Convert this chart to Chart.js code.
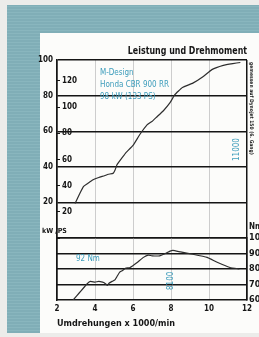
<!DOCTYPE html>
<html>
<head>
<meta charset="utf-8">
<script src="https://cdn.jsdelivr.net/npm/chart.js@4.4.0/dist/chart.umd.min.js"></script>
<style>
  html, body { margin: 0; padding: 0; }
  body {
    width: 259px; height: 337px; position: relative; overflow: hidden;
    background: #ececea;
    font-family: "Liberation Sans Narrow", "DejaVu Sans Condensed", "Liberation Sans", sans-serif;
  }
  #frame {
    position: absolute; left: 7px; top: 5px; width: 252px; height: 328px;
    background: repeating-linear-gradient(0deg, #80aeb7 0 2px, #89b6be 2px 3px);
  }
  #panel { position: absolute; left: 40px; top: 33px; width: 219px; height: 300px; background: #fcfcfa; }
  canvas { position: absolute; left: 0; top: 0; }
  .t { position: absolute; white-space: nowrap; font-weight: bold; color: #161616; }
  .teal { color: #3c9cbb; font-weight: normal; }
  .rot { transform-origin: 0 0; }
</style>
</head>
<body>
<div id="frame"></div>
<div id="panel"></div>
<canvas id="kw" width="259" height="337"></canvas>
<canvas id="nm" width="259" height="337"></canvas>

<div class="t" style="right:12px; top:44px; font-size:11px; transform:scaleX(0.8); transform-origin:100% 0;">Leistung und Drehmoment</div>
<div class="t teal" style="left:100px; top:67px; font-size:8px; line-height:12px;">M-Design<br>Honda CBR 900 RR<br>98 kW (133 PS)</div>
<div class="t teal rot" style="left:232px; top:161px; font-size:8px; transform:rotate(-90deg);">11000</div>
<div class="t teal rot" style="left:166px; top:290px; font-size:8px; transform:rotate(-90deg);">8100</div>
<div class="t teal" style="left:76px; top:254px; font-size:8px;">92 Nm</div>
<div class="t" style="left:42px; top:227px; font-size:7px;">kW /PS</div>
<div class="t" style="left:249px; top:222px; font-size:8px;">Nm</div>
<div class="t rot" style="left:255px; top:62px; font-size:5px; transform:rotate(90deg);">gemessen auf Dynojet 150 (6. Gang)</div>

<script>
// Leistung (kW) ueber Drehzahl (x 1000/min)
const powerRpm = [2.95, 3.2, 3.4, 3.6, 3.9, 4.2, 4.5, 4.7, 4.95, 5.05, 5.15, 5.35, 5.6, 6.0, 6.35, 6.75, 7.0, 7.25, 7.6, 7.95, 8.2, 8.6, 9.15, 9.7, 10.15, 10.75, 11.25, 11.65];
const powerKw  = [19.4, 25, 29, 30.5, 32.7, 34, 35, 35.8, 36.3, 38, 41, 44, 47.6, 52, 58, 63.7, 65.5, 68, 71.5, 76, 80.5, 84.5, 87, 90.7, 94.6, 97, 98, 98.6];

// Drehmoment (Nm) ueber Drehzahl
const torqueRpm = [2.85, 3.2, 3.55, 3.75, 4.0, 4.2, 4.4, 4.5, 4.65, 4.75, 4.9, 5.05, 5.15, 5.3, 5.45, 5.6, 5.85, 6.2, 6.55, 6.8, 7.0, 7.4, 7.7, 7.95, 8.1, 8.5, 9.15, 9.9, 10.4, 11.1, 11.6];
const torqueNm  = [60, 65, 70, 72, 71.5, 72, 71.5, 71, 69.5, 71, 72, 73, 75, 78, 79, 80.5, 81, 84, 87.5, 89, 88.5, 88.5, 90, 91.5, 92, 91, 89.5, 87.5, 84.5, 81, 80];

// Achsen
const rpmMin = 2, rpmMax = 12, rpmStep = 2;
const kwMax = 100, kwStep = 20;
const psMax = 136, psStep = 20;
const nmMin = 60, nmMax = 100, nmStep = 10;

const FONT = '"Liberation Sans Narrow", "DejaVu Sans Condensed", "Liberation Sans", sans-serif';
const INK = '#151515';

Chart.defaults.font.family = FONT;
Chart.defaults.color = INK;

function vGrid(ctx) {
  const v = ctx.tick.value;
  return (v === rpmMin || v === rpmMax) ? INK : '#cdcdcd';
}
function vWidth(ctx) {
  const v = ctx.tick.value;
  return (v === rpmMin || v === rpmMax) ? 1.5 : 1;
}

function toPoints(xs, ys) {
  return xs.map((x, i) => ({ x: x, y: ys[i] }));
}

// Oberes Diagramm: Leistung
new Chart(document.getElementById('kw'), {
  type: 'line',
  data: {
    datasets: [{
      data: toPoints(powerRpm, powerKw),
      borderColor: '#2e2e2e',
      borderWidth: 1.2,
      pointRadius: 0,
      tension: 0.1
    }]
  },
  options: {
    responsive: false,
    animation: false,
    layout: { padding: { top: 60, right: 12, left: 0, bottom: 0 } },
    plugins: { legend: { display: false }, tooltip: { enabled: false } },
    scales: {
      x: {
        type: 'linear', min: rpmMin, max: rpmMax,
        ticks: { display: false, stepSize: rpmStep },
        grid: { color: vGrid, lineWidth: vWidth, drawTicks: false },
        border: { display: false },
        afterFit: s => { s.height = 99; }
      },
      y: {
        position: 'left', min: 0, max: kwMax, weight: 1,
        ticks: {
          stepSize: kwStep, padding: 4, color: INK,
          font: { size: 8, weight: 'bold' },
          callback: v => v === 0 ? '' : v
        },
        grid: { color: INK, lineWidth: 1.4, drawTicks: false },
        border: { display: true, color: INK, width: 1.5 },
        afterFit: s => { s.width = 57; }
      },
      ps: {
        position: 'left', min: 0, max: psMax, weight: 0,
        ticks: {
          stepSize: psStep, mirror: true, padding: 5, includeBounds: false, color: INK,
          font: { size: 8, weight: 'bold' },
          callback: v => v === 0 ? '' : v
        },
        grid: { drawOnChartArea: false, drawTicks: true, tickLength: -3, color: INK, lineWidth: 1 },
        border: { display: false },
        afterFit: s => { s.width = 0; }
      }
    }
  }
});

// Unteres Diagramm: Drehmoment
new Chart(document.getElementById('nm'), {
  type: 'line',
  data: {
    datasets: [{
      data: toPoints(torqueRpm, torqueNm),
      borderColor: '#2e2e2e',
      borderWidth: 1.2,
      pointRadius: 0,
      tension: 0.1
    }]
  },
  options: {
    responsive: false,
    animation: false,
    layout: { padding: { top: 238, right: 0, left: 0, bottom: 0 } },
    plugins: { legend: { display: false }, tooltip: { enabled: false } },
    scales: {
      x: {
        type: 'linear', min: rpmMin, max: rpmMax,
        ticks: { stepSize: rpmStep, padding: 4, color: INK, font: { size: 8, weight: 'bold' } },
        grid: { color: vGrid, lineWidth: vWidth, drawTicks: false },
        border: { display: true, color: INK, width: 1.5 },
        title: {
          display: true, text: 'Umdrehungen x 1000/min', align: 'start', color: INK,
          font: { size: 9, weight: 'bold' }, padding: { top: 8, bottom: 8 }
        },
        afterFit: s => { s.height = 37; }
      },
      y: {
        position: 'right', min: nmMin, max: nmMax,
        ticks: { stepSize: nmStep, padding: 2, color: INK, font: { size: 9, weight: 'bold' } },
        grid: { color: c => c.tick.value === nmMin ? 'rgba(0,0,0,0)' : INK, lineWidth: 1.4, drawTicks: false },
        border: { display: true, color: INK, width: 1.5 },
        afterFit: s => { s.width = 12; }
      },
      yl: {
        position: 'left', min: nmMin, max: nmMax,
        ticks: { display: false },
        grid: { display: false },
        border: { display: true, color: INK, width: 1.5 },
        afterFit: s => { s.width = 57; }
      }
    }
  }
});
</script>
</body>
</html>
